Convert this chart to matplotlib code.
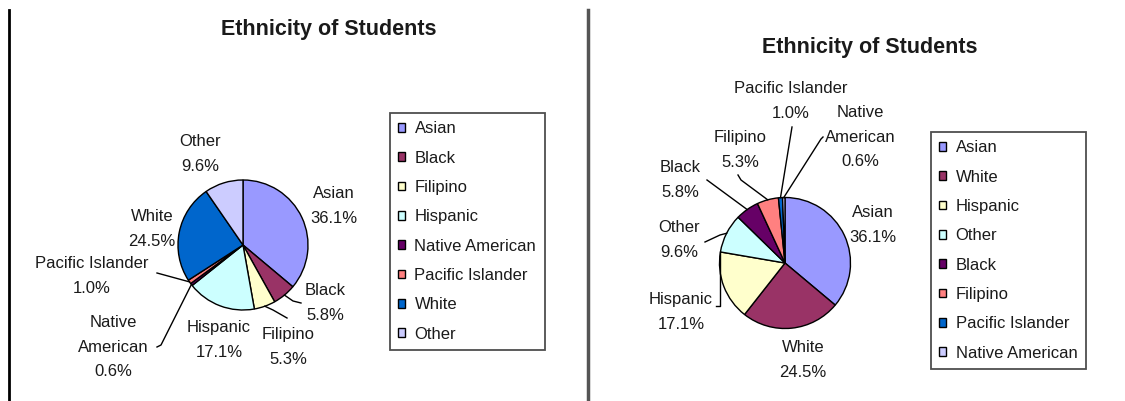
import numpy as np
import matplotlib
matplotlib.use('Agg')
from matplotlib import pyplot as plt

plt.rcParams['font.family'] = ['Liberation Sans', 'DejaVu Sans']

W, H = 1125, 401

# left chart data (legend order)
left_names = ['Asian', 'Black', 'Filipino', 'Hispanic', 'Native American',
              'Pacific Islander', 'White', 'Other']
left_pct = [36.1, 5.8, 5.3, 17.1, 0.6, 1.0, 24.5, 9.6]

# right chart data (sorted by size, small ones last)
right_names = ['Asian', 'White', 'Hispanic', 'Other', 'Black', 'Filipino',
               'Pacific Islander', 'Native American']
right_pct = [36.1, 24.5, 17.1, 9.6, 5.8, 5.3, 1.0, 0.6]

# Excel 2003 pie palette
palette = ['#9999FF', '#993366', '#FFFFCC', '#CCFFFF', '#660066',
           '#FF8080', '#0066CC', '#CCCCFF']

TXT = '#1a1a1a'
FS = 12


def py(y):
    # pixel row (from top) -> data y (from bottom)
    return H - y


def edge_point(wedge, cx, cy, r):
    a = np.deg2rad((wedge.theta1 + wedge.theta2) / 2.0)
    return cx + r * np.cos(a), cy + r * np.sin(a)


def label_text(name):
    return name.replace('Native American', 'Native\nAmerican')


def draw_pie(ax, names, pct, center, r, label_pos, leaders, legend_xy):
    cx, cy = center[0], py(center[1])
    wedges, _ = ax.pie(pct, colors=palette, startangle=90, counterclock=False,
                       center=(cx, cy), radius=r, frame=True,
                       wedgeprops=dict(edgecolor='black', linewidth=1.0))
    for w, name, p in zip(wedges, names, pct):
        tx, ty = label_pos[name]
        ax.text(tx, py(ty), '%s\n%.1f%%' % (label_text(name), p),
                ha='center', va='center', fontsize=FS, color=TXT,
                linespacing=1.8)
        if name in leaders:
            pts, to_edge = leaders[name]
            xs = [q[0] for q in pts]
            ys = [py(q[1]) for q in pts]
            if to_edge:
                ex, ey = edge_point(w, cx, cy, r)
                xs.append(ex)
                ys.append(ey)
            ax.plot(xs, ys, color='black', lw=1.0)
    leg = ax.legend(wedges, names, loc='upper left',
                    bbox_to_anchor=(legend_xy[0] / W, 1 - legend_xy[1] / H),
                    bbox_transform=ax.figure.transFigure, borderaxespad=0,
                    fontsize=FS, frameon=True, fancybox=False,
                    handlelength=0.42, handleheight=0.42, handletextpad=0.55,
                    labelspacing=0.86, borderpad=0.5)
    leg.get_frame().set_edgecolor('#222222')
    leg.get_frame().set_linewidth(1.3)
    for t in leg.get_texts():
        t.set_color(TXT)
    return leg


fig = plt.figure(figsize=(W / 100, H / 100), dpi=100)
ax = fig.add_axes([0, 0, 1, 1])

left_labels = {
    'Asian': (334, 206), 'Black': (325, 303), 'Filipino': (288, 347),
    'Hispanic': (219, 340), 'Native American': (113, 347),
    'Pacific Islander': (92, 276), 'White': (152, 229), 'Other': (200, 154),
}
left_leaders = {
    'Black': ([(301, 303), (293, 301)], True),
    'Filipino': ([(287, 318), (273, 310)], True),
    'Native American': ([(157, 347), (161, 345)], True),
    'Pacific Islander': ([(157, 273)], True),
}
leg1 = draw_pie(ax, left_names, left_pct, (243, 245), 65, left_labels,
                left_leaders, (390, 113))
ax.add_artist(leg1)

right_labels = {
    'Asian': (873, 225), 'White': (803, 360), 'Hispanic': (681, 312),
    'Other': (679, 240), 'Black': (680, 180), 'Filipino': (740, 150),
    'Pacific Islander': (791, 101), 'Native American': (860, 137),
}
right_leaders = {
    'Pacific Islander': ([(792, 127)], True),
    'Native American': ([(823, 137), (821, 139)], True),
    'Filipino': ([(738, 175), (741, 180)], True),
    'Black': ([(707, 180)], True),
    'Other': ([(705, 242), (720, 235)], True),
    'Hispanic': ([(716, 306), (720, 306), (720, 252)], False),
}
draw_pie(ax, right_names, right_pct, (785, 263), 65.5, right_labels,
         right_leaders, (931, 132))

ax.text(329, py(30), 'Ethnicity of Students', ha='center', va='center',
        fontsize=15.5, fontweight='bold', color=TXT)
ax.text(870, py(47), 'Ethnicity of Students', ha='center', va='center',
        fontsize=15.5, fontweight='bold', color=TXT)

# panel borders
ax.plot([8.5, 8.5], [py(10), py(401)], color='black', lw=2)
ax.plot([588, 588], [py(10), py(401)], color='#555555', lw=2.5)

ax.set_xlim(0, W)
ax.set_ylim(0, H)
ax.set_aspect('equal')
ax.axis('off')

fig.savefig('out.png', dpi=100, facecolor='white')
